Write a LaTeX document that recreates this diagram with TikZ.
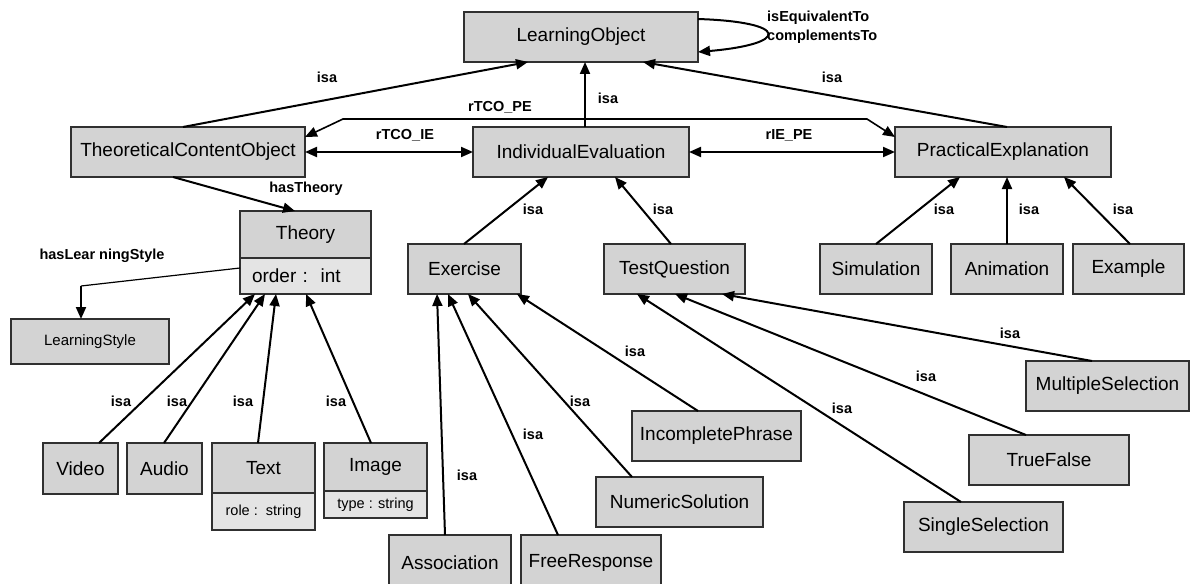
\documentclass[tikz,border=0pt]{standalone}
\usepackage{fontspec}
\setmainfont{Liberation Sans}
\usetikzlibrary{arrows.meta,calc}
\definecolor{boxfill}{HTML}{D3D3D3}
\definecolor{attrfill}{HTML}{E4E4E4}
\definecolor{boxline}{HTML}{303030}
\begin{document}
\begin{tikzpicture}[x=1pt,y=-1pt,
  cls/.style={draw=boxline,line width=1.2pt,fill=boxfill,inner sep=0pt,outer sep=0pt,anchor=north west,font=\fontsize{19}{22}\selectfont},
  attr/.style={cls,fill=attrfill},
  small/.style={font=\fontsize{15}{18}\selectfont},
  lbl/.style={font=\fontsize{14.5}{17}\selectfont\bfseries,inner sep=0pt},
  tip/.style={-{Triangle[length=12pt,width=10pt]}},
  rel/.style={line width=2pt,tip},
  both/.style={line width=2pt,{Triangle[length=12pt,width=10pt]}-{Triangle[length=12pt,width=10pt]}}]
\useasboundingbox (0,0) rectangle (1190,583);
\clip (0,0) rectangle (1190,583);
\fill[white] (0,0) rectangle (1190,583);

% classes
\node[cls,minimum width=234pt,minimum height=50pt] (lo) at (464,12) {LearningObject};
\node[cls,minimum width=234pt,minimum height=50pt] (tco) at (71,127) {TheoreticalContentObject};
\node[cls,minimum width=216pt,minimum height=50pt] (ie) at (473,127) {IndividualEvaluation};
\node[cls,minimum width=216pt,minimum height=50pt] (pe) at (895,127) {PracticalExplanation};
\node[cls,minimum width=113pt,minimum height=50pt] (exe) at (408,244) {Exercise};
\node[cls,minimum width=141pt,minimum height=50pt] (tq) at (604,244) {TestQuestion};
\node[cls,minimum width=112pt,minimum height=50pt] (sim) at (820,244) {Simulation};
\node[cls,minimum width=112pt,minimum height=50pt] (anim) at (951,244) {Animation};
\node[cls,minimum width=111pt,minimum height=50pt] (exa) at (1073,244) {Example};
\node[cls,minimum width=131pt,minimum height=47pt] (theory) at (240,211) {Theory};
\node[attr,minimum width=131pt,minimum height=36pt,text width=119pt,inner xsep=6pt,align=left] (theoryattr) at (240,258) {\hspace*{6pt}order :\ \ int};
\node[cls,small,minimum width=158pt,minimum height=45pt] (ls) at (11,319) {LearningStyle};
\node[cls,minimum width=75pt,minimum height=51pt] (video) at (43,443) {Video};
\node[cls,minimum width=75pt,minimum height=51pt] (audio) at (127,443) {Audio};
\node[cls,minimum width=103pt,minimum height=50pt] (text) at (212,443) {Text};
\node[attr,font=\fontsize{14.5}{17}\selectfont,minimum width=103pt,minimum height=37pt] (textattr) at (212,493) {role :\ \ string};
\node[cls,minimum width=103pt,minimum height=48pt] (image) at (324,443) {Image};
\node[attr,font=\fontsize{14.5}{17}\selectfont,minimum width=103pt,minimum height=27pt] (imageattr) at (324,491) {type : string};
\node[cls,minimum width=122pt,minimum height=55pt] (assoc) at (389,535) {Association};
\node[cls,minimum width=140pt,minimum height=55pt] (free) at (521,535) {FreeResponse};
\node[cls,minimum width=167pt,minimum height=50pt] (num) at (596,477) {NumericSolution};
\node[cls,minimum width=169pt,minimum height=50pt] (inc) at (632,411) {IncompletePhrase};
\node[cls,minimum width=163pt,minimum height=50pt] (multi) at (1026,361) {MultipleSelection};
\node[cls,minimum width=160pt,minimum height=50pt] (tf) at (969,435) {TrueFalse};
\node[cls,minimum width=159pt,minimum height=50pt] (single) at (904,502) {SingleSelection};

% top level isa
\draw[rel] ([xshift=112pt]tco.north west) -- ([xshift=64pt]lo.south west);
\draw[rel] ([xshift=112pt]ie.north west) -- ([xshift=121pt]lo.south west);
\draw[rel] ([xshift=112pt]pe.north west) -- ([xshift=179pt]lo.south west);
% self loop
\draw[rel] ([yshift=-7pt]lo.north east) .. controls +(92,3) and +(92,-8) .. ([yshift=10pt]lo.south east);
% relations
\draw[both] (tco.east) -- (ie.west);
\draw[both] (ie.east) -- (pe.west);
\draw[line width=1.6pt,{Triangle[length=12pt,width=10pt]}-{Triangle[length=12pt,width=10pt]}]
  ([yshift=-10pt]tco.north east) -- ++(38,-18) -- ++(524,0) -- ([yshift=-10pt]pe.north west);
\draw[rel] ([xshift=102pt]tco.south west) -- ([xshift=55pt]theory.north west);
\coordinate (lsbend) at ([xshift=70pt,yshift=33pt]ls.north west);
\draw[line width=1.2pt] ([yshift=-10pt]theoryattr.north west) -- (lsbend);
\draw[rel] (lsbend) -- ([xshift=70pt]ls.north west);
% theory subclasses
\draw[rel] ([xshift=56pt]video.north west) -- ([xshift=15pt]theoryattr.south west);
\draw[rel] ([xshift=37pt]audio.north west) -- ([xshift=25pt]theoryattr.south west);
\draw[rel] ([xshift=46pt]text.north west) -- ([xshift=36pt]theoryattr.south west);
\draw[rel] ([xshift=47pt]image.north west) -- ([xshift=66pt]theoryattr.south west);
% evaluation subclasses
\draw[rel] ([xshift=56pt]exe.north west) -- ([xshift=75pt]ie.south west);
\draw[rel] ([xshift=67pt]tq.north west) -- ([xshift=142pt]ie.south west);
% practical subclasses
\draw[rel] ([xshift=56pt]sim.north west) -- ([xshift=65pt]pe.south west);
\draw[rel] ([xshift=56pt]anim.north west) -- ([xshift=112pt]pe.south west);
\draw[rel] ([xshift=57pt]exa.north west) -- ([xshift=169pt]pe.south west);
% exercise subclasses
\draw[rel] ([xshift=56pt]assoc.north west) -- ([xshift=29pt]exe.south west);
\draw[rel] ([xshift=37pt]free.north west) -- ([xshift=40pt]exe.south west);
\draw[rel] ([xshift=36pt]num.north west) -- ([xshift=60pt]exe.south west);
\draw[rel] ([xshift=66pt]inc.north west) -- ([xshift=109pt]exe.south west);
% test question subclasses
\draw[rel] ([xshift=57pt]single.north west) -- ([xshift=33pt]tq.south west);
\draw[rel] ([xshift=57pt]tf.north west) -- ([xshift=71pt]tq.south west);
\draw[rel] ([xshift=66pt]multi.north west) -- ([xshift=118pt]tq.south west);

% labels
\node[lbl] (l1) at (327,77) {isa};
\node[lbl] (l2) at (608,98) {isa};
\node[lbl] (l3) at (832,77) {isa};
\node[lbl,anchor=west] (l4) at (767,18) {isEquivalentTo};
\node[lbl,anchor=west] (l5) at (767,37) {complementsTo};
\node[lbl] (l6) at (500,107) {rTCO\_PE};
\node[lbl] (l7) at (405,135) {rTCO\_IE};
\node[lbl] (l8) at (789,135) {rIE\_PE};
\node[lbl] (l9) at (306,189) {hasTheory};
\node[lbl] (l10) at (102,256) {hasLear ningStyle};
\node[lbl] (l11) at (121,401) {isa};
\node[lbl] (l12) at (177,401) {isa};
\node[lbl] (l13) at (243,401) {isa};
\node[lbl] (l14) at (336,401) {isa};
\node[lbl] (l15) at (533,209) {isa};
\node[lbl] (l16) at (663,209) {isa};
\node[lbl] (l17) at (944,209) {isa};
\node[lbl] (l18) at (1029,209) {isa};
\node[lbl] (l19) at (1123,209) {isa};
\node[lbl] (l20) at (467,475) {isa};
\node[lbl] (l21) at (533,434) {isa};
\node[lbl] (l22) at (580,401) {isa};
\node[lbl] (l23) at (635,351) {isa};
\node[lbl] (l24) at (842,408) {isa};
\node[lbl] (l25) at (926,376) {isa};
\node[lbl] (l26) at (1010,333) {isa};
\end{tikzpicture}
\end{document}
